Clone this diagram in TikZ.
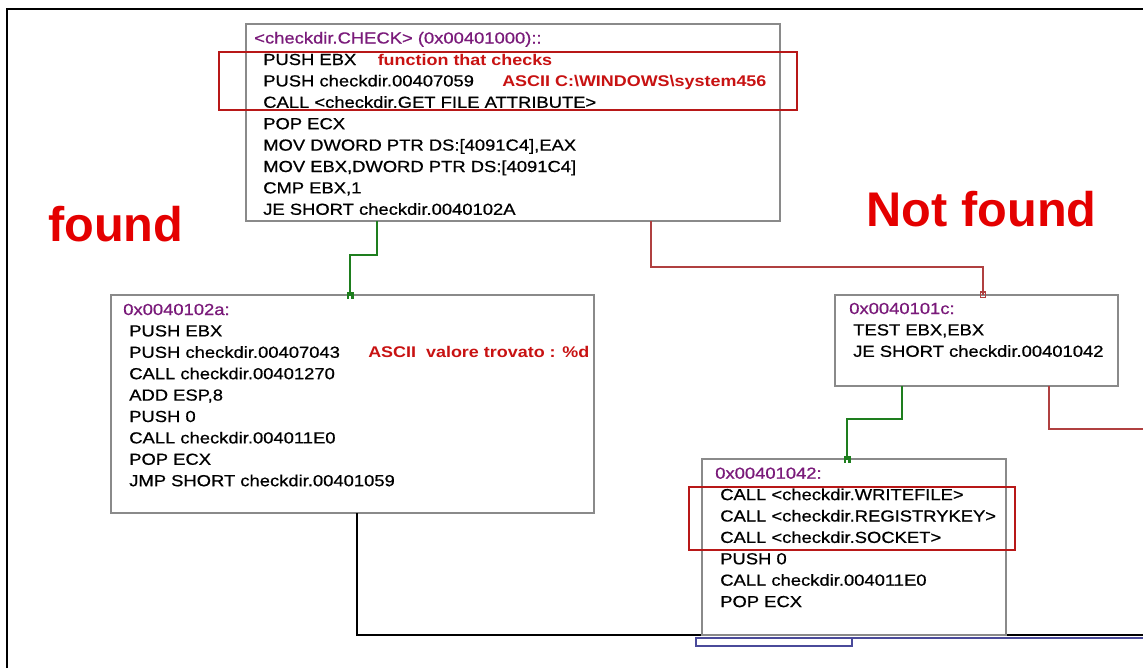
\documentclass[tikz,border=0pt]{standalone}
\usepackage{fontspec}
\setmainfont{Liberation Sans}[FakeStretch=1.15, FakeBold=0.7]
\newfontfamily\labelfont{Liberation Sans}
\newfontfamily\annfont{Liberation Sans Bold}[FakeStretch=1.16]
\usetikzlibrary{calc}
\definecolor{boxgray}{HTML}{8A8A8A}
\definecolor{hlred}{HTML}{B81818}
\definecolor{annred}{HTML}{C81212}
\definecolor{bigred}{HTML}{E40000}
\definecolor{titlepurple}{HTML}{7A1A7A}
\definecolor{jgreen}{HTML}{1E7E1E}
\definecolor{jred}{HTML}{B04040}
\definecolor{jblue}{HTML}{4A4A9A}
\newcommand\codelines[1]{\vtop{\baselineskip=16.05pt\lineskiplimit=-\maxdimen\lineskip=0pt\halign{##\hfil\cr#1\crcr}}}
\newcommand\pxbox[6]{\node[#1, minimum width={(#5-#3)*0.75pt}, minimum height={(#6-#4)*0.75pt}] (#2) at (#3,#4) {};}
\begin{document}
\begin{tikzpicture}[x=0.75pt,y=-0.75pt,
  blockbox/.style={draw=boxgray, fill=white, line width=1.6pt, inner sep=0pt, outer sep=0pt, anchor=north west},
  hlbox/.style={draw=hlred, line width=1.5pt, inner sep=0pt, outer sep=0pt, anchor=north west},
  codetext/.style={inner sep=0pt, anchor=base west, text=black, font=\fontsize{12}{16.05}\selectfont},
  titletext/.style={codetext, text=titlepurple},
  anntext/.style={inner sep=0pt, anchor=base west, text=annred, font=\annfont\fontsize{11.6}{14}\selectfont},
  bigtext/.style={inner sep=0pt, anchor=base west, text=bigred, font=\labelfont\bfseries\fontsize{36.5}{40}\selectfont},
  truejump/.style={draw=jgreen, line width=2pt},
  falsejump/.style={draw=jred, line width=0.9pt},
  plainjump/.style={draw=black, line width=0.9pt},
  bluejump/.style={draw=jblue, line width=0.9pt}]
\useasboundingbox (0,0) rectangle (1143,668);
% frame
\draw[line width=1.6pt] (7,668) -- (7,9) -- (1143,9);
% coordinates for free ends
\coordinate (offA) at (1143,429);
\coordinate (offB) at (1143,635);
\coordinate (offC) at (1143,638);
% boxes (positions)
\pxbox{blockbox}{b1}{246}{24}{780}{221}
\pxbox{blockbox}{b2}{111}{295}{594}{513}
\pxbox{blockbox}{b3}{835}{295}{1118}{386}
% connectors drawn before lower box
\draw[plainjump] (357,0 |- b2.south) -- (357,635) -- (offB);
\draw[bluejump] (696,638) rectangle (852,646);
\draw[bluejump] (852,638) -- (offC);
\pxbox{blockbox}{b4}{702}{459}{1006}{635}
\draw[truejump] (377,0 |- b1.south) -- (377,255) -- (350,255) -- (350,0 |- b2.north);
\draw[falsejump] (651,0 |- b1.south) -- (651,267) -- (983,267) -- (983,0 |- b3.north);
\draw[truejump] (902,0 |- b3.south) -- (902,419) -- (847,419) -- (847,0 |- b4.north);
\draw[falsejump] (1049,0 |- b3.south) -- (1049,429) -- (offA);
% end markers
\fill[jgreen] (346.5,291.5) rectangle (353.5,298.5);
\fill[white] (349,296) rectangle (351,298.5);
\fill[jgreen] (843.5,455.5) rectangle (850.5,462.5);
\fill[white] (846,460) rectangle (848,462.5);
\draw[jred, line width=0.9pt] (980.5,292) rectangle (985.5,297.5);
% box 1 text
\node[titletext] (t1) at (254,43.5) {<checkdir.CHECK> (0x00401000)::};
\node[codetext] (c1) at (263,65) {\codelines{PUSH EBX\cr PUSH checkdir.00407059\cr CALL <checkdir.GET FILE ATTRIBUTE>\cr POP ECX\cr MOV DWORD PTR DS:[4091C4],EAX\cr MOV EBX,DWORD PTR DS:[4091C4]\cr CMP EBX,1\cr JE SHORT checkdir.0040102A}};
\node[anntext] (a1) at (377.5,65) {function that checks};
\node[anntext] (a2) at (502,86.4) {ASCII C:\textbackslash WINDOWS\textbackslash system456};
% box 2 text
\node[titletext] (t2) at (123,315) {0x0040102a:};
\node[codetext] (c2) at (129,336.4) {\codelines{PUSH EBX\cr PUSH checkdir.00407043\cr CALL checkdir.00401270\cr ADD ESP,8\cr PUSH 0\cr CALL checkdir.004011E0\cr POP ECX\cr JMP SHORT checkdir.00401059}};
\node[anntext] (a3) at (368,357.8) {ASCII\ \ valore trovato : \%d};
% box 3 text
\node[titletext] (t3) at (849,314) {0x0040101c:};
\node[codetext] (c3) at (853,335.4) {\codelines{TEST EBX,EBX\cr JE SHORT checkdir.00401042}};
% box 4 text
\node[titletext] (t4) at (715,478.7) {0x00401042:};
\node[codetext] (c4) at (720,500.1) {\codelines{CALL <checkdir.WRITEFILE>\cr CALL <checkdir.REGISTRYKEY>\cr CALL <checkdir.SOCKET>\cr PUSH 0\cr CALL checkdir.004011E0\cr POP ECX}};
% highlight rectangles
\pxbox{hlbox}{h1}{219}{52}{797}{110}
\pxbox{hlbox}{h2}{689}{487}{1015}{550}
% big labels
\node[bigtext] (found) at (48,241.7) {found};
\node[bigtext] (notfound) at (866.5,226.7) {Not found};
\end{tikzpicture}
\end{document}
